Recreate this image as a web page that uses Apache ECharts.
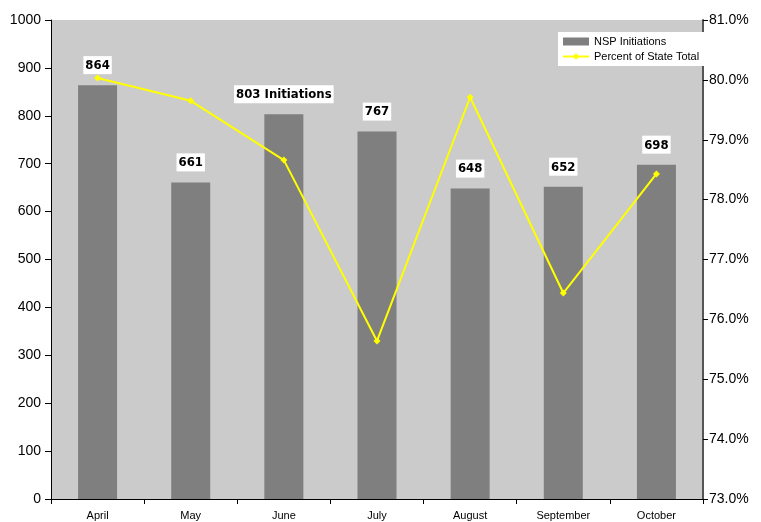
<!DOCTYPE html>
<html>
<head>
<meta charset="utf-8">
<script src="https://cdn.jsdelivr.net/npm/echarts@6/dist/echarts.min.js"></script>
<style>
  html, body { margin: 0; padding: 0; background: #fff; }
  #chart { width: 761px; height: 522px; }
</style>
</head>
<body>
<div id="chart"></div>
<script>
const months = ["April", "May", "June", "July", "August", "September", "October"];
const initiations = [864, 661, 803, 767, 648, 652, 698];
const percentOfState = [80.03, 79.65, 78.66, 75.64, 79.71, 76.44, 78.43];

const chart = echarts.init(document.getElementById("chart"));
const axisFont = { fontFamily: "Arial, 'Liberation Sans', sans-serif", color: "#000" };

const option = {
    animation: false,
    backgroundColor: "#fff",
    grid: {
        left: 51,
        right: 58,
        top: 20,
        bottom: 23,
        show: true,
        backgroundColor: "#cbcbcb",
        borderWidth: 0,
    },
    legend: {
        left: 558,
        top: 32,
        orient: "vertical",
        backgroundColor: "#fff",
        padding: [4, 8, 4, 4],
        itemGap: 4,
        itemWidth: 26,
        itemHeight: 8,
        textStyle: { ...axisFont, fontSize: 11 },
        data: [
            { name: "NSP Initiations", icon: "rect" },
            { name: "Percent of State Total" },
        ],
    },
    xAxis: {
        type: "category",
        data: months,
        axisLine: { lineStyle: { color: "#000", width: 1 } },
        axisTick: { show: true, alignWithLabel: false, length: 5, lineStyle: { color: "#000" } },
        axisLabel: { ...axisFont, fontSize: 11, margin: 11 },
    },
    yAxis: [
        {
            type: "value",
            min: 0,
            max: 1000,
            interval: 100,
            splitLine: { show: false },
            axisLine: { show: true, lineStyle: { color: "#000" } },
            axisTick: { show: true, length: 6, lineStyle: { color: "#000" } },
            axisLabel: { ...axisFont, fontSize: 14, margin: 10, formatter: (v) => String(v) },
        },
        {
            type: "value",
            min: 73,
            max: 81,
            interval: 1,
            splitLine: { show: false },
            axisLine: { show: true, lineStyle: { color: "#555", width: 2 } },
            axisTick: { show: true, length: 5, lineStyle: { color: "#000" } },
            axisLabel: {
                ...axisFont,
                fontSize: 14,
                margin: 6,
                formatter: (v) => v.toFixed(1) + "%",
            },
        },
    ],
    series: [
        {
            name: "NSP Initiations",
            type: "bar",
            barWidth: 39,
            data: initiations,
            itemStyle: { color: "#7f7f7f" },
            label: {
                show: true,
                position: "top",
                distance: 11,
                color: "#000",
                fontFamily: "'DejaVu Sans Condensed', 'DejaVu Sans', sans-serif",
                fontWeight: "bold",
                fontSize: 13,
                backgroundColor: "#fff",
                padding: [3, 2, 2, 2],
                formatter: (p) => (p.dataIndex === 2 ? p.value + " Initiations" : String(p.value)),
            },
        },
        {
            name: "Percent of State Total",
            type: "line",
            yAxisIndex: 1,
            data: percentOfState,
            symbol: "diamond",
            symbolSize: 7,
            lineStyle: { color: "#ffff00", width: 2 },
            itemStyle: { color: "#ffff00" },
            z: 3,
        },
    ],
};

chart.setOption(option);
</script>
</body>
</html>
